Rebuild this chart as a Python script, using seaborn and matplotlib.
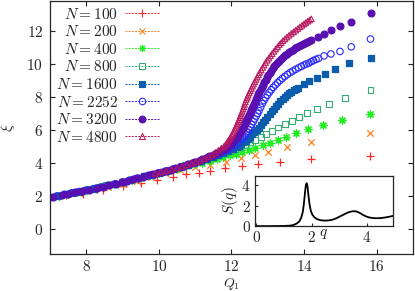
import matplotlib
matplotlib.use("Agg")
import matplotlib.pyplot as plt
import seaborn as sns
from matplotlib.lines import Line2D

# Datos: Q1 y xi para cada N
q100 = [7.0, 7.45, 7.9, 8.46, 9.0, 9.5, 9.96, 10.38, 10.75, 11.1, 11.42, 11.81,
        12.29, 12.72, 13.34, 14.18, 15.83]
xi100 = [1.93, 2.05, 2.16, 2.36, 2.6, 2.81, 2.97, 3.14, 3.31, 3.42, 3.53, 3.68,
         3.82, 3.94, 4.05, 4.24, 4.44]

q200 = [7.0, 7.4, 7.8, 8.2, 8.6, 9.0, 9.4, 9.78, 10.17, 10.58, 11.0, 11.41, 11.85,
        12.27, 12.64, 13.0, 13.52, 14.18, 15.83]
xi200 = [1.93, 2.07, 2.21, 2.37, 2.54, 2.73, 2.94, 3.18, 3.42, 3.6, 3.75, 3.9, 4.08,
         4.3, 4.46, 4.68, 4.98, 5.28, 5.84]

q400 = [7.0, 7.25, 7.5, 7.75, 8.0, 8.25, 8.5, 8.75, 9.0, 9.25, 9.5, 9.75, 10.0,
        10.25, 10.5, 10.75, 10.97, 11.18, 11.4, 11.59, 11.77, 11.95, 12.13, 12.3,
        12.48, 12.66, 12.86, 13.06, 13.27, 13.5, 13.77, 14.12, 14.53, 15.04, 15.83]
xi400 = [1.93, 2.03, 2.14, 2.25, 2.37, 2.49, 2.61, 2.74, 2.86, 2.99, 3.12, 3.26, 3.4,
         3.54, 3.67, 3.8, 3.92, 4.03, 4.14, 4.25, 4.36, 4.46, 4.57, 4.68,
         4.8, 4.93, 5.08, 5.24, 5.4, 5.58, 5.8, 6.05, 6.3, 6.61, 6.95]

q800 = [7.0, 7.22, 7.44, 7.66, 7.88, 8.1, 8.32, 8.54, 8.76, 8.98, 9.2, 9.42, 9.64,
        9.86, 10.08, 10.3, 10.52, 10.73, 10.94, 11.14, 11.33, 11.5, 11.66, 11.81,
        11.95, 12.09, 12.23, 12.37, 12.51, 12.66, 12.81, 12.96, 13.12, 13.29, 13.47,
        13.66, 13.86, 14.08, 14.35, 14.68, 15.12, 15.83]
xi800 = [1.93, 2.03, 2.13, 2.23, 2.33, 2.43, 2.54, 2.65, 2.76, 2.87, 2.99, 3.11, 3.23,
         3.35, 3.47, 3.6, 3.73, 3.86, 3.99, 4.12, 4.25, 4.38, 4.5, 4.62,
         4.74, 4.86, 4.98, 5.11, 5.25, 5.4, 5.58, 5.76, 5.95, 6.15, 6.35,
         6.56, 6.78, 7.02, 7.25, 7.55, 7.92, 8.42]

q1600 = [7.0, 7.2, 7.4, 7.6, 7.8, 8.0, 8.2, 8.4, 8.6, 8.8, 9.0, 9.2, 9.4, 9.6, 9.8,
         10.0, 10.2, 10.4, 10.6, 10.8, 10.98, 11.16, 11.33, 11.49, 11.64, 11.78,
         11.91, 12.03, 12.15, 12.21, 12.27, 12.33, 12.39, 12.45, 12.51, 12.57, 12.63,
         12.69, 12.75, 12.81, 12.87, 12.93, 12.99, 13.05, 13.11, 13.17, 13.23, 13.29,
         13.35, 13.41, 13.47, 13.53, 13.59, 13.65, 13.71, 13.775, 13.84, 13.99, 14.15,
         14.35, 14.57, 14.84, 15.24, 15.84]
xi1600 = [1.93, 2.02, 2.11, 2.2, 2.28, 2.37, 2.46, 2.55, 2.65, 2.75, 2.86, 2.97, 3.08,
          3.19, 3.3, 3.41, 3.53, 3.65, 3.78, 3.91, 4.03, 4.15, 4.27, 4.39, 4.5, 4.61,
          4.72, 4.84, 4.97, 5.05, 5.15, 5.25, 5.35, 5.47, 5.6, 5.73, 5.87,
          6.01, 6.15, 6.31, 6.47, 6.63, 6.8, 6.96, 7.13, 7.29, 7.45, 7.6,
          7.75, 7.88, 8.0, 8.11, 8.22, 8.31, 8.4, 8.48, 8.56, 8.76, 8.97,
          9.17, 9.39, 9.68, 10.04, 10.38]

q2252 = [7.0, 7.2, 7.4, 7.6, 7.8, 8.0, 8.2, 8.4, 8.6, 8.8, 9.0, 9.2, 9.4, 9.6, 9.8,
         10.0, 10.2, 10.4, 10.6, 10.8, 10.98, 11.16, 11.33, 11.49, 11.63, 11.76,
         11.88, 11.99, 12.09, 12.18, 12.27, 12.32, 12.36, 12.4, 12.44, 12.48, 12.52,
         12.56, 12.6, 12.64, 12.68, 12.72, 12.76, 12.805, 12.85, 12.895, 12.94, 12.99,
         13.04, 13.095, 13.15, 13.21, 13.27, 13.335, 13.4, 13.47, 13.54, 13.615, 13.69,
         13.77, 13.85, 13.925, 14.0, 14.065, 14.13, 14.195, 14.26, 14.33, 14.4, 14.55,
         14.74, 14.99, 15.3, 15.83]
xi2252 = [1.93, 2.02, 2.11, 2.2, 2.28, 2.37, 2.46, 2.55, 2.65, 2.75, 2.86, 2.97, 3.08,
          3.19, 3.3, 3.41, 3.53, 3.65, 3.78, 3.91, 4.04, 4.17, 4.3, 4.43, 4.56, 4.68,
          4.8, 4.93, 5.07, 5.23, 5.41, 5.52, 5.62, 5.75, 5.88, 6.03, 6.18,
          6.34, 6.5, 6.67, 6.84, 7.0, 7.17, 7.38, 7.6, 7.78, 7.95, 8.11,
          8.27, 8.43, 8.58, 8.72, 8.86, 8.99, 9.12, 9.24, 9.36, 9.47, 9.57,
          9.67, 9.76, 9.85, 9.93, 9.99, 10.05, 10.13, 10.2, 10.27, 10.33, 10.48,
          10.6, 10.75, 11.03, 11.5]

q3200 = [7.08, 7.32, 7.5, 7.69, 7.89, 8.08, 8.29, 8.45, 8.63, 8.81, 8.98, 9.13, 9.3,
         9.43, 9.57, 9.71, 9.85, 9.96, 10.09, 10.21, 10.33, 10.45, 10.57, 10.68,
         10.79, 10.9, 11.0, 11.1, 11.2, 11.3, 11.39, 11.48, 11.57, 11.65, 11.73,
         11.81, 11.88, 11.95, 11.985, 12.02, 12.05, 12.08, 12.11, 12.14, 12.17, 12.2,
         12.23, 12.26, 12.29, 12.32, 12.35, 12.38, 12.405, 12.43, 12.455, 12.48,
         12.505, 12.53, 12.555, 12.58, 12.61, 12.64, 12.67, 12.7, 12.735, 12.77,
         12.805, 12.84, 12.875, 12.91, 12.945, 12.98, 13.02, 13.06, 13.1, 13.14,
         13.185, 13.23, 13.275, 13.32, 13.37, 13.42, 13.47, 13.52, 13.575, 13.63,
         13.685, 13.74, 13.795, 13.85, 13.91, 13.97, 14.03, 14.09, 14.145, 14.2,
         14.39, 14.56, 14.75, 15.0, 15.3, 15.84]
xi3200 = [1.96, 2.06, 2.15, 2.23, 2.31, 2.4, 2.5, 2.57, 2.66, 2.76, 2.85, 2.93, 3.02,
          3.09, 3.17, 3.25, 3.33, 3.4, 3.47, 3.54, 3.61, 3.69, 3.77, 3.84,
          3.92, 4.0, 4.07, 4.15, 4.23, 4.32, 4.4, 4.49, 4.58, 4.67, 4.77,
          4.88, 4.99, 5.11, 5.18, 5.25, 5.32, 5.4, 5.48, 5.56, 5.65, 5.74,
          5.83, 5.93, 6.04, 6.15, 6.27, 6.4, 6.53, 6.66, 6.79, 6.92,
          7.05, 7.18, 7.31, 7.44, 7.58, 7.72, 7.86, 8.0, 8.15, 8.3,
          8.45, 8.6, 8.75, 8.9, 9.04, 9.18, 9.32, 9.46, 9.59, 9.72,
          9.85, 9.97, 10.09, 10.2, 10.31, 10.42, 10.52, 10.61, 10.7, 10.78,
          10.86, 10.93, 11.0, 11.07, 11.14, 11.2, 11.27, 11.33, 11.39, 11.45,
          11.64, 11.8, 12.02, 12.26, 12.55, 13.07]

q4800 = [9.9, 10.05, 10.2, 10.35, 10.5, 10.64, 10.77, 10.9, 11.02, 11.14, 11.26,
         11.37, 11.47, 11.56, 11.64, 11.72, 11.79, 11.83, 11.86, 11.89, 11.92, 11.95,
         11.98, 12.01, 12.04, 12.065, 12.09, 12.115, 12.14, 12.16, 12.18, 12.205,
         12.23, 12.25, 12.27, 12.295, 12.32, 12.34, 12.36, 12.385, 12.41, 12.435,
         12.46, 12.49, 12.52, 12.55, 12.58, 12.61, 12.64, 12.675, 12.71, 12.745,
         12.78, 12.82, 12.86, 12.9, 12.94, 12.985, 13.03, 13.075, 13.12, 13.17,
         13.22, 13.27, 13.32, 13.37, 13.42, 13.475, 13.53, 13.59, 13.65, 13.71,
         13.77, 13.83, 13.89, 13.945, 14.0, 14.05, 14.1, 14.15, 14.2]
xi4800 = [3.38, 3.46, 3.54, 3.62, 3.71, 3.8, 3.89, 3.98, 4.07, 4.16, 4.27,
          4.38, 4.5, 4.63, 4.77, 4.9, 5.0, 5.09, 5.18, 5.28, 5.38, 5.48,
          5.58, 5.69, 5.8, 5.92, 6.05, 6.16, 6.28, 6.39, 6.5, 6.62,
          6.75, 6.87, 7.0, 7.13, 7.27, 7.41, 7.55, 7.7, 7.85, 7.97,
          8.1, 8.24, 8.38, 8.51, 8.65, 8.78, 8.92, 9.06, 9.2, 9.34,
          9.48, 9.63, 9.78, 9.93, 10.08, 10.22, 10.35, 10.49, 10.62, 10.76,
          10.9, 11.03, 11.17, 11.28, 11.4, 11.51, 11.62, 11.73, 11.84, 11.94,
          12.04, 12.14, 12.24, 12.33, 12.42, 12.5, 12.58, 12.65, 12.72]

# Factor de estructura del recuadro
s_q = [0.0, 0.4, 0.8, 1.0, 1.2, 1.33, 1.45, 1.55, 1.62, 1.68, 1.72, 1.76, 1.79, 1.82,
       1.85, 1.88, 1.92, 1.97, 2.03, 2.1, 2.2, 2.32, 2.45, 2.6, 2.75, 2.9, 3.05, 3.2,
       3.35, 3.5, 3.62, 3.74, 3.86, 3.98, 4.1, 4.25, 4.4, 4.55, 4.7, 4.85, 4.95]
s_val = [0.0, 0.0, 0.01, 0.02, 0.04, 0.1, 0.24, 0.45, 0.8, 1.4, 2.2, 3.3, 4.0, 4.2,
         3.9, 3.1, 2.2, 1.5, 1.1, 0.86, 0.68, 0.58, 0.54, 0.55, 0.62, 0.77, 0.98, 1.18,
         1.37, 1.46, 1.44, 1.3, 1.1, 0.94, 0.84, 0.78, 0.77, 0.8, 0.86, 0.94, 1.0]

labels = ["100", "200", "400", "800", "1600", "2252", "3200", "4800"]
datos = [(q100, xi100), (q200, xi200), (q400, xi400), (q800, xi800),
         (q1600, xi1600), (q2252, xi2252), (q3200, xi3200), (q4800, xi4800)]

# estilo: color, marcador, relleno, tamano
estilos = [
    ("#ff2a2a", "+", True, 28),
    ("#ff8020", "x", True, 22),
    ("#22ee22", (8, 2, 0), True, 26),
    ("#33b070", "s", False, 18),
    ("#0b5cad", "s", True, 20),
    ("#2a2aff", "o", False, 22),
    ("#5a0fb0", "o", True, 24),
    ("#b8185e", "^", False, 16),
]

sns.set_style("ticks")
plt.rcParams["font.family"] = "serif"
plt.rcParams["font.serif"] = ["cmr10"]
plt.rcParams["mathtext.fontset"] = "cm"
plt.rcParams["axes.formatter.use_mathtext"] = True

fig = plt.figure(figsize=(4.15, 2.91), dpi=100)
ax = fig.add_axes([0.1205, 0.127, 0.8745, 0.8695])

handles = []
for lab, (qs, xs), (c, m, relleno, tam) in zip(labels, datos, estilos):
    if relleno:
        sns.scatterplot(x=qs, y=xs, ax=ax, marker=m, color=c, s=tam,
                        edgecolor=c if m in ("s", "o") else None, linewidth=0.9)
    else:
        sns.scatterplot(x=qs, y=xs, ax=ax, marker=m, color=c, s=tam,
                        facecolor="none", edgecolor=c, linewidth=0.8)
    handles.append(Line2D([], [], color=c, ls=(0, (2, 1.3)), lw=0.7, marker=m,
                          ms=tam ** 0.5, mfc=c if relleno else "none", mec=c,
                          mew=0.8, label=rf"$N = {lab}$"))

ax.set_xlim(7, 17)
ax.set_ylim(-1.5, 13.8)
ax.set_xticks([8, 10, 12, 14, 16])
ax.set_yticks([0, 2, 4, 6, 8, 10, 12])
ax.tick_params(direction="in", top=True, right=True, length=3.5, width=0.8,
               labelsize=11, pad=5)
ax.tick_params(axis="x", pad=3.5)
for sp in ax.spines.values():
    sp.set_linewidth(0.9)
ax.set_xlabel(r"$Q_1$", fontsize=10)
ax.xaxis.set_label_coords(0.5, -0.086)
ax.set_ylabel(r"$\xi$", fontsize=11, labelpad=7)

leg = ax.legend(handles=handles, loc="upper right", bbox_to_anchor=(0.303, 0.978),
                markerfirst=False, frameon=False, fontsize=11, borderpad=0,
                borderaxespad=0, handlelength=2.3, handletextpad=0.45,
                labelspacing=0.17)

# Recuadro con S(q)
ax_in = fig.add_axes([0.614, 0.223, 0.333, 0.172])
sns.lineplot(x=s_q, y=s_val, ax=ax_in, color="black", lw=1.3)
ax_in.set_xlim(-0.06, 4.95)
ax_in.set_ylim(0, 4.9)
ax_in.set_xticks([0, 2, 4])
ax_in.set_yticks([0, 2, 4])
ax_in.tick_params(direction="in", length=2, labelsize=11, pad=3)
for sp in ax_in.spines.values():
    sp.set_linewidth(0.9)
ax_in.set_xlabel(r"$q$", fontsize=11, labelpad=-13)
ax_in.set_ylabel(r"$S(q)$", fontsize=11, labelpad=1)

fig.savefig("out.png", dpi=100)
